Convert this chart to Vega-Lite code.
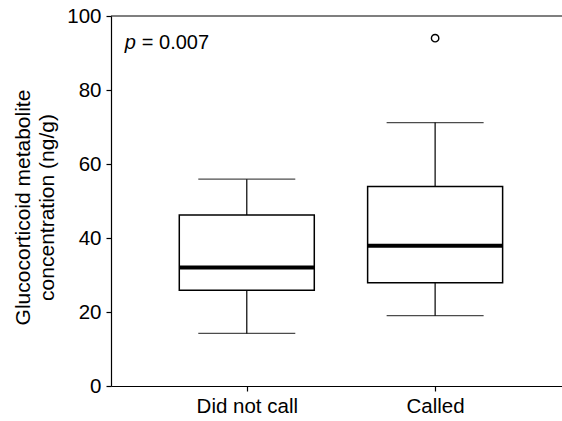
{
  "$schema": "https://vega.github.io/schema/vega-lite/v6.json",
  "width": 452,
  "height": 370,
  "autosize": "none",
  "padding": {"left": 111, "top": 16, "right": 0, "bottom": 35},
  "background": "white",
  "config": {
    "font": "Liberation Sans",
    "view": {"stroke": null},
    "axis": {
      "domainColor": "black", "domainWidth": 1.2,
      "tickColor": "black", "tickWidth": 1.2, "tickSize": 5,
      "labelColor": "black", "labelFont": "Liberation Sans", "labelFontSize": 20.5,
      "titleColor": "black", "titleFont": "Liberation Sans", "titleFontWeight": "normal",
      "grid": false
    }
  },
  "datasets": {
    "boxes": [
      {"group": "Did not call", "lower": 14.2, "q1": 25.9, "median": 32.0, "q3": 46.2, "upper": 55.9},
      {"group": "Called", "lower": 19.0, "q1": 27.9, "median": 37.9, "q3": 53.9, "upper": 71.2}
    ],
    "outliers": [
      {"group": "Called", "value": 94.0}
    ]
  },
  "encoding": {
    "x": {
      "field": "group", "type": "nominal",
      "sort": ["Did not call", "Called"],
      "scale": {"type": "point", "domain": ["Did not call", "Called"], "padding": 0.7, "align": 0.515},
      "axis": {"title": null, "labelAngle": 0, "labelPadding": 5}
    }
  },
  "layer": [
    {
      "data": {"values": [{"top": 100}]},
      "mark": {"type": "rule", "color": "black", "strokeWidth": 1.2},
      "encoding": {
        "x": null,
        "y": {"field": "top", "type": "quantitative"}
      }
    },
    {
      "data": {"name": "boxes"},
      "mark": {"type": "rule", "color": "black", "strokeWidth": 1.2},
      "encoding": {
        "y": {
          "field": "lower", "type": "quantitative",
          "scale": {"domain": [0, 100], "nice": false, "zero": true},
          "axis": {
            "values": [0, 20, 40, 60, 80, 100],
            "labelPadding": 5,
            "title": ["Glucocorticoid metabolite", "concentration (ng/g)"],
            "titleFontSize": 21,
            "titleLineHeight": 24,
            "titleAngle": 270,
            "titleBaseline": "top",
            "titleAlign": "center",
            "titleX": -99,
            "titleY": 191
          }
        },
        "y2": {"field": "upper"}
      }
    },
    {
      "data": {"name": "boxes"},
      "mark": {"type": "tick", "color": "black", "size": 97, "thickness": 1.2},
      "encoding": {"y": {"field": "lower", "type": "quantitative"}}
    },
    {
      "data": {"name": "boxes"},
      "mark": {"type": "tick", "color": "black", "size": 97, "thickness": 1.2},
      "encoding": {"y": {"field": "upper", "type": "quantitative"}}
    },
    {
      "data": {"name": "boxes"},
      "mark": {"type": "bar", "width": 135, "fill": "white", "stroke": "black", "strokeWidth": 1.5},
      "encoding": {
        "y": {"field": "q1", "type": "quantitative"},
        "y2": {"field": "q3"}
      }
    },
    {
      "data": {"name": "boxes"},
      "mark": {"type": "tick", "color": "black", "size": 135, "thickness": 4, "opacity": 1},
      "encoding": {"y": {"field": "median", "type": "quantitative"}}
    },
    {
      "data": {"name": "outliers"},
      "mark": {"type": "point", "shape": "circle", "filled": false, "color": "black", "size": 55, "strokeWidth": 1.4, "opacity": 1},
      "encoding": {"y": {"field": "value", "type": "quantitative"}}
    },
    {
      "data": {"values": [{"label": "p"}]},
      "mark": {"type": "text", "font": "Liberation Sans", "fontSize": 20, "fontStyle": "italic", "align": "left", "baseline": "middle", "color": "black", "dx": -122},
      "encoding": {
        "x": {"datum": "Did not call"},
        "y": {"datum": 92.6},
        "text": {"field": "label"}
      }
    },
    {
      "data": {"values": [{"label": "= 0.007"}]},
      "mark": {"type": "text", "font": "Liberation Sans", "fontSize": 20, "align": "left", "baseline": "middle", "color": "black", "dx": -105},
      "encoding": {
        "x": {"datum": "Did not call"},
        "y": {"datum": 92.6},
        "text": {"field": "label"}
      }
    }
  ]
}
